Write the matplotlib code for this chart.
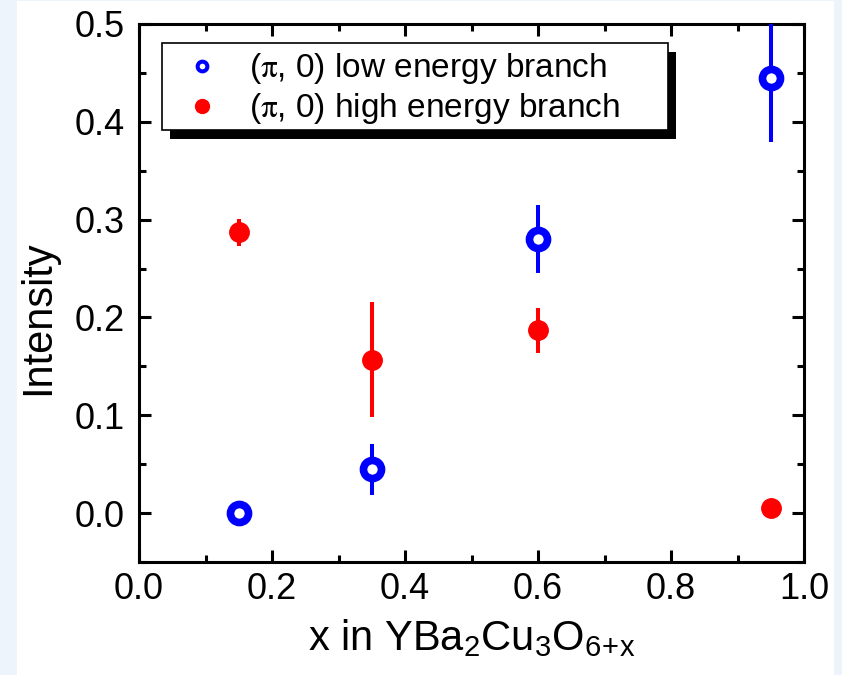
import matplotlib
matplotlib.use("Agg")
import matplotlib.pyplot as plt
from matplotlib.lines import Line2D
from matplotlib.patches import Rectangle
from matplotlib.ticker import MultipleLocator

plt.rcParams['font.family'] = ['Liberation Sans', 'DejaVu Sans']
plt.rcParams['mathtext.fontset'] = 'stix'

# doping x in YBa2Cu3O6+x
doping = [0.15, 0.35, 0.60, 0.95]

# (pi, 0) low energy branch
low_int = [0.0, 0.045, 0.28, 0.445]
low_err = [0.004, 0.026, 0.035, 0.066]

# (pi, 0) high energy branch
high_int = [0.287, 0.157, 0.187, 0.005]
high_err = [0.014, 0.059, 0.023, 0.0]

labels = [r"($\mathrm{\pi}$, 0) low energy branch",
          r"($\mathrm{\pi}$, 0) high energy branch"]

blue = '#0000ff'
red = '#ff0000'

fig = plt.figure(figsize=(8.42, 6.75), dpi=100, facecolor='#edf4fc')
fig.patches.append(Rectangle((17 / 842, 0), (834 - 17) / 842, 674 / 675,
                             transform=fig.transFigure, facecolor='white',
                             edgecolor='none', zorder=-10))
ax = fig.add_axes([139 / 842, 1 - 562 / 675, 665 / 842, 538 / 675])

ax.errorbar(doping, high_int, yerr=high_err, fmt='o', color=red, ms=14,
            mec=red, mew=1, elinewidth=2.9, capsize=0, zorder=3)
ax.errorbar(doping, low_int, yerr=low_err, fmt='o', color=blue, ms=13,
            mfc='white', mec=blue, mew=5.5, elinewidth=2.9, capsize=0, zorder=4)

ax.set_xlim(0, 1.0)
ax.set_ylim(-0.05, 0.5)
ax.xaxis.set_major_locator(MultipleLocator(0.2))
ax.xaxis.set_minor_locator(MultipleLocator(0.1))
ax.yaxis.set_major_locator(MultipleLocator(0.1))
ax.yaxis.set_minor_locator(MultipleLocator(0.05))
ax.xaxis.set_major_formatter(lambda v, p: f"{v:.1f}")
ax.yaxis.set_major_formatter(lambda v, p: f"{v:.1f}")

for s in ax.spines.values():
    s.set_linewidth(2.2)
ax.tick_params(which='both', direction='in', top=True, right=True, width=2.2)
ax.tick_params(which='major', length=8.6, labelsize=26)
ax.tick_params(which='minor', length=5)
ax.tick_params(axis='x', which='major', pad=7.5)
ax.tick_params(axis='y', which='major', pad=10.5)

ax.set_xlabel(r"x in $\mathregular{YBa_2Cu_3O_{6\!+\!x}}$", fontsize=30, labelpad=7)
ax.set_ylabel("Intensity", fontsize=30, va='center')
ax.yaxis.set_label_coords(-0.152, 0.4535)

# legend box with a solid black drop shadow
lx0, ly0, lx1, ly1 = 0.0346, 0.803, 0.7955, 0.9647
ax.add_patch(Rectangle((lx0 + 0.012, ly0 - 0.0165), lx1 - lx0, ly1 - ly0,
                       transform=ax.transAxes, facecolor='black',
                       edgecolor='none', zorder=5))
ax.add_patch(Rectangle((lx0, ly0), lx1 - lx0, ly1 - ly0,
                       transform=ax.transAxes, facecolor='white',
                       edgecolor='black', linewidth=1.2, zorder=6))
handles = [Line2D([], [], ls='none', marker='o', ms=7, mfc='white', mec=blue, mew=2.9),
           Line2D([], [], ls='none', marker='o', ms=10, mfc=red, mec=red)]
leg = ax.legend(handles, labels, loc='upper left', bbox_to_anchor=(lx0, ly1),
                frameon=False, fontsize=24, borderaxespad=0, borderpad=0.25,
                handlelength=1.9, handletextpad=0.45, labelspacing=0.15)
leg.set_zorder(7)

fig.savefig("out.png", dpi=100, facecolor=fig.get_facecolor())
